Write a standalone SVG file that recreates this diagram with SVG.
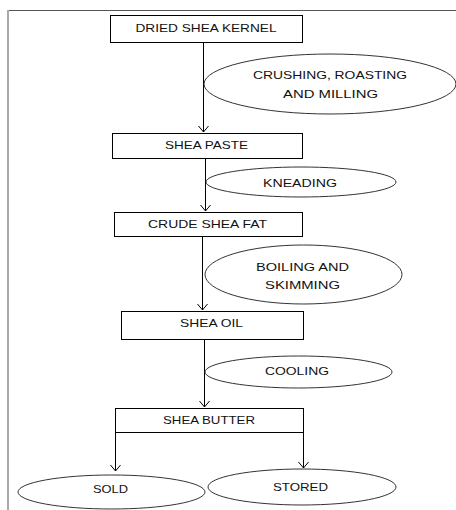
<svg xmlns="http://www.w3.org/2000/svg" width="456" height="510" viewBox="0 0 456 510">
<style>
.box{fill:#fff;stroke:#000;stroke-width:1}
.ell{fill:#fff;stroke:#333;stroke-width:1}
.t{font-family:"Liberation Sans",Arial,sans-serif;font-size:11px;fill:#111;text-anchor:middle}
.c{stroke:#000;stroke-width:1;fill:none}
.a{stroke:#000;stroke-width:1;fill:none}
</style>
<rect width="456" height="510" fill="#fff"/>
<g id="frame">
<line x1="8" y1="10.5" x2="456" y2="10.5" stroke="#555" stroke-width="1"/>
<line x1="8" y1="10" x2="8" y2="510" stroke="#aaa" stroke-width="2"/>
</g>
<g id="connectors">
<line class="c" x1="203.5" y1="42" x2="203.5" y2="132"/>
<polyline class="a" points="198.5,126 203.5,132 208.5,126"/>
<line class="c" x1="205.5" y1="158" x2="205.5" y2="211"/>
<polyline class="a" points="200.5,205 205.5,211 210.5,205"/>
<line class="c" x1="202.5" y1="236" x2="202.5" y2="310"/>
<polyline class="a" points="197.5,304 202.5,310 207.5,304"/>
<line class="c" x1="204.5" y1="339" x2="204.5" y2="407"/>
<polyline class="a" points="199.5,401 204.5,407 209.5,401"/>
<line class="c" x1="115.5" y1="432" x2="115.5" y2="471"/>
<polyline class="a" points="110.5,465 115.5,471 120.5,465"/>
<line class="c" x1="303.5" y1="432" x2="303.5" y2="468"/>
<polyline class="a" points="298.5,462 303.5,468 308.5,462"/>
</g>
<g id="n1">
<rect class="box" x="110.5" y="15.5" width="192" height="27"/>
<text class="t" x="206" y="32" textLength="141" lengthAdjust="spacingAndGlyphs">DRIED SHEA KERNEL</text>
</g>
<g id="p1">
<ellipse class="ell" cx="330" cy="84" rx="126" ry="30"/>
<text class="t" x="330" y="79" textLength="154" lengthAdjust="spacingAndGlyphs">CRUSHING, ROASTING</text>
<text class="t" x="330.5" y="98" textLength="95" lengthAdjust="spacingAndGlyphs">AND MILLING</text>
</g>
<g id="n2">
<rect class="box" x="112.5" y="133.5" width="190" height="25"/>
<text class="t" x="206.5" y="149" textLength="83" lengthAdjust="spacingAndGlyphs">SHEA PASTE</text>
</g>
<g id="p2">
<ellipse class="ell" cx="301" cy="182" rx="95" ry="15"/>
<text class="t" x="300" y="187" textLength="74" lengthAdjust="spacingAndGlyphs">KNEADING</text>
</g>
<g id="n3">
<rect class="box" x="114.5" y="212.5" width="188" height="24"/>
<text class="t" x="207.5" y="228" textLength="119" lengthAdjust="spacingAndGlyphs">CRUDE SHEA FAT</text>
</g>
<g id="p3">
<ellipse class="ell" cx="303.5" cy="274.5" rx="98.5" ry="29.5"/>
<text class="t" x="302.5" y="271" textLength="93" lengthAdjust="spacingAndGlyphs">BOILING AND</text>
<text class="t" x="302.5" y="289" textLength="75" lengthAdjust="spacingAndGlyphs">SKIMMING</text>
</g>
<g id="n4">
<rect class="box" x="121.5" y="311.5" width="182" height="28"/>
<text class="t" x="211.5" y="327" textLength="63" lengthAdjust="spacingAndGlyphs">SHEA OIL</text>
</g>
<g id="p4">
<ellipse class="ell" cx="298.5" cy="372" rx="93.5" ry="16"/>
<text class="t" x="297" y="375" textLength="64" lengthAdjust="spacingAndGlyphs">COOLING</text>
</g>
<g id="n5">
<rect class="box" x="115.5" y="408.5" width="188" height="24"/>
<text class="t" x="209" y="424" textLength="92" lengthAdjust="spacingAndGlyphs">SHEA BUTTER</text>
</g>
<g id="n6">
<ellipse class="ell" cx="111.5" cy="492" rx="93.5" ry="17"/>
<text class="t" x="110.5" y="493" textLength="35" lengthAdjust="spacingAndGlyphs">SOLD</text>
</g>
<g id="n7">
<ellipse class="ell" cx="302" cy="487" rx="94" ry="18"/>
<text class="t" x="300.5" y="491" textLength="55" lengthAdjust="spacingAndGlyphs">STORED</text>
</g>
</svg>
